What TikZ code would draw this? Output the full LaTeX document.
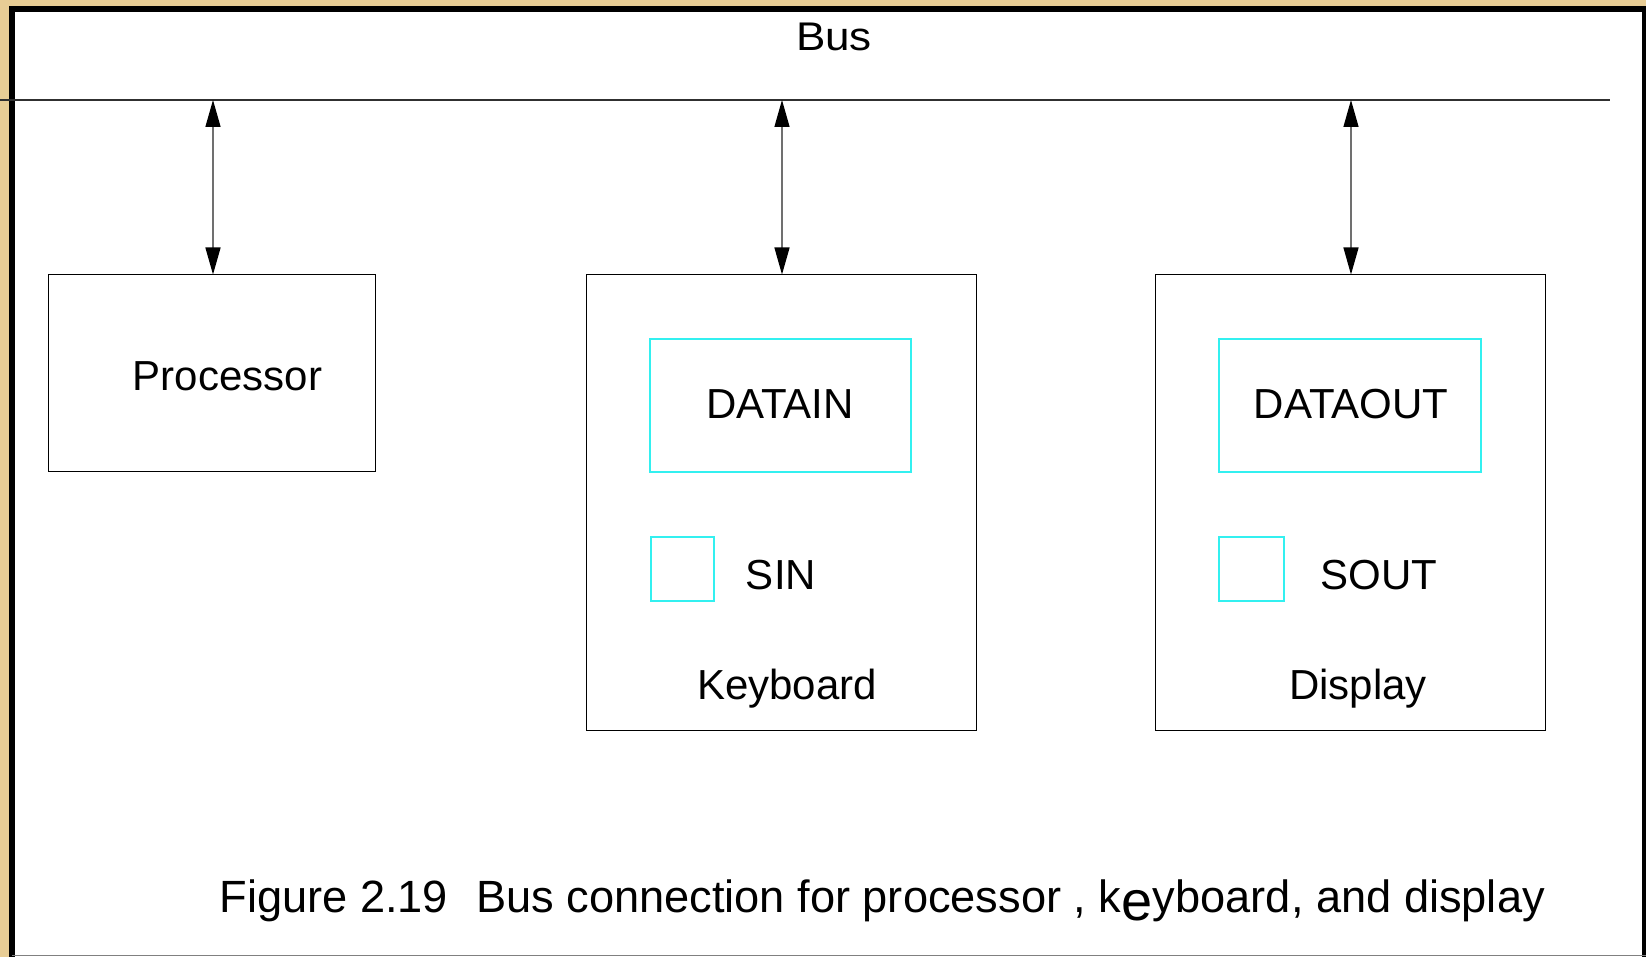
\documentclass[tikz,border=0pt]{standalone}
\usepackage{fontspec}
\setmainfont{Liberation Sans}
\usetikzlibrary{arrows.meta}
\definecolor{frameGold}{HTML}{E8CD95}
\definecolor{regCyan}{HTML}{33F0F0}
\definecolor{linkGrey}{HTML}{707070}
\definecolor{busGrey}{HTML}{303030}
\begin{document}
\begin{tikzpicture}[x=0.5pt,y=-0.5pt,
  unitbox/.style={draw=black,line width=0.5pt},
  regbox/.style={draw=regCyan,line width=0.6pt},
  lbl/.style={inner sep=0pt,anchor=base,font=\fontsize{21}{25}\selectfont},
  buslink/.style={draw=linkGrey,line width=0.65pt,
    {Triangle[length=13.5pt,width=7.5pt,fill=black,color=black]}-{Triangle[length=13.5pt,width=7.5pt,fill=black,color=black]}}
]
\useasboundingbox (0,0) rectangle (1646,957);
% textured frame and white panel
\fill[frameGold] (0,0) rectangle (1646,957);
\fill[white] (12,9) rectangle (1646,957);
\draw[line width=2.6pt] (12,957) -- (12,9) -- (1644.3,9) -- (1644.3,957);
\draw[gray,line width=0.6pt] (12,955.5) -- (1646,955.5);

% bus
\draw[busGrey,line width=0.55pt] (0,100) coordinate (busL) -- (1610,100) coordinate (busR);
\node[lbl,font=\fontsize{20}{24}\selectfont] (buslbl) at (834,51) {\scalebox{1.1}[1]{Bus}};

% processor
\node[unitbox,minimum width=163.5pt,minimum height=98.5pt,inner sep=0pt] (proc) at (211.5,373.5) {};
\node[lbl] (proclbl) at (227.5,391) {Processor};

% keyboard unit
\node[unitbox,minimum width=195pt,minimum height=227.5pt,inner sep=0pt] (kbd) at (781,502.5) {};
\node[regbox,minimum width=130.5pt,minimum height=66.5pt,inner sep=0pt] (datain) at (780.5,405.5) {};
\node[lbl] (dataintxt) at (780,418.5) {DATAIN};
\node[regbox,minimum width=31.5pt,minimum height=32pt,inner sep=0pt] (sin) at (682.5,569) {};
\node[lbl] (sinlbl) at (781,589.5) {SIN};
\node[lbl] (kbdlbl) at (787,699) {Keyboard};

% display unit
\node[unitbox,minimum width=195pt,minimum height=227.5pt,inner sep=0pt] (disp) at (1350,502.5) {};
\node[regbox,minimum width=131pt,minimum height=66.5pt,inner sep=0pt] (dataout) at (1350,405.5) {};
\node[lbl] (dataouttxt) at (1351,418.5) {DATAOUT};
\node[regbox,minimum width=32.5pt,minimum height=32pt,inner sep=0pt] (sout) at (1251.5,569) {};
\node[lbl] (soutlbl) at (1379,589.5) {SOUT};
\node[lbl] (displbl) at (1358,699) {Display};

% bus taps
\coordinate (tapP) at (213,100);
\coordinate (tapK) at (782,100);
\coordinate (tapD) at (1351,100);
\draw[buslink] (tapP) -- (tapP |- proc.north);
\draw[buslink] (tapK) -- (tapK |- kbd.north);
\draw[buslink] (tapD) -- (tapD |- disp.north);

% caption
\node[inner sep=0pt,anchor=base west,font=\fontsize{22.6}{26}\selectfont] (caption) at (219,912)
  {Figure 2.19\hspace{14pt}Bus connection for processor , k\raisebox{-4pt}{\fontsize{28}{30}\selectfont e}yboard, and display};
\end{tikzpicture}
\end{document}
